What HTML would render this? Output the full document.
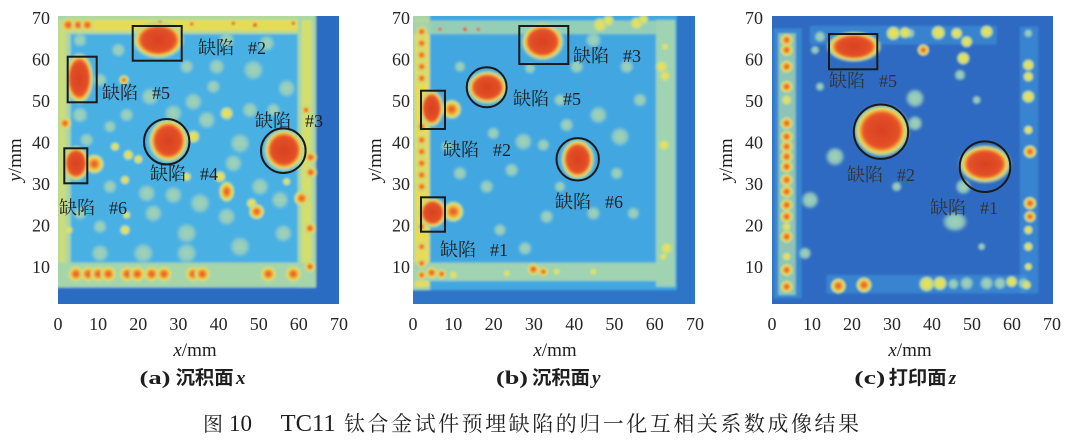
<!DOCTYPE html>
<html><head><meta charset="utf-8">
<style>
html,body{margin:0;padding:0;background:#fff;}
svg{display:block;}
.t{font-family:"Liberation Serif","Noto Serif CJK SC",serif;fill:#1e1e1e;}
.k{font-family:"Liberation Serif","Noto Serif CJK SC",serif;fill:#262626;font-size:18px;}
.s{font-family:"Liberation Serif","Noto Sans CJK SC",sans-serif;fill:#1e1e1e;font-weight:bold;}
</style></head><body>
<svg width="1068" height="443" viewBox="0 0 1068 443" xmlns="http://www.w3.org/2000/svg">
<defs>
<clipPath id="ca"><rect x="58" y="16" width="281" height="288"/></clipPath>
<clipPath id="cb"><rect x="413" y="16" width="282" height="288"/></clipPath>
<clipPath id="cc"><rect x="772" y="16" width="281" height="288"/></clipPath>
<filter id="bl" x="-10%" y="-10%" width="120%" height="120%"><feGaussianBlur stdDeviation="3"/></filter>
<radialGradient id="gR">
<stop offset="0" stop-color="#d8401f"/><stop offset="0.62" stop-color="#e4512a"/><stop offset="0.68" stop-color="#ef6f2b"/><stop offset="0.74" stop-color="#f4a235"/><stop offset="0.8" stop-color="#ecd94e"/><stop offset="0.87" stop-color="#b0d89c"/><stop offset="1" stop-color="#9fd2b4" stop-opacity="0"/>
</radialGradient>
<radialGradient id="gO">
<stop offset="0" stop-color="#e4502a"/><stop offset="0.3" stop-color="#ee7a2c"/><stop offset="0.5" stop-color="#f3b038"/><stop offset="0.68" stop-color="#eadf55"/><stop offset="0.85" stop-color="#b4da9c"/><stop offset="1" stop-color="#b4da9c" stop-opacity="0"/>
</radialGradient>
<radialGradient id="gY">
<stop offset="0" stop-color="#f0e050"/><stop offset="0.5" stop-color="#dfe060"/><stop offset="0.8" stop-color="#b0d8a0"/><stop offset="1" stop-color="#b0d8a0" stop-opacity="0"/>
</radialGradient>
<radialGradient id="gG">
<stop offset="0" stop-color="#a4d4b0"/><stop offset="0.6" stop-color="#98cfbe" stop-opacity="0.9"/><stop offset="1" stop-color="#98cfbe" stop-opacity="0"/>
</radialGradient>
</defs>
<rect width="1068" height="443" fill="#fff"/>

<!-- ===== Panel (a) ===== -->
<g clip-path="url(#ca)"><g transform="scale(0.33333)"><g filter="url(#bl)">
<rect x="140" y="20" width="910" height="920" fill="#2b6cc2"/>
<rect x="140" y="20" width="807" height="843" fill="#4ab0e4"/>
<rect x="150" y="40" width="797" height="62" fill="#b2d99c"/>
<rect x="180" y="60" width="765" height="32" fill="#e5dc56"/>
<rect x="150" y="40" width="62" height="822" fill="#a8d6a8"/>
<rect x="176" y="60" width="22" height="790" fill="#d9df66" opacity=".7"/>
<rect x="893" y="50" width="55" height="812" fill="#a6d5aa"/>
<rect x="905" y="60" width="30" height="795" fill="#e0e05a" opacity=".8"/>
<rect x="150" y="788" width="798" height="74" fill="#a6d5aa"/>
<g fill="url(#gG)">
<circle cx="355" cy="150" r="22"/><circle cx="300" cy="240" r="22"/><circle cx="450" cy="290" r="28"/><circle cx="580" cy="305" r="28"/><circle cx="760" cy="210" r="32"/><circle cx="860" cy="265" r="28"/><circle cx="240" cy="345" r="25"/><circle cx="380" cy="345" r="22"/><circle cx="520" cy="340" r="28"/><circle cx="620" cy="360" r="28"/><circle cx="720" cy="430" r="32"/><circle cx="700" cy="490" r="28"/><circle cx="330" cy="560" r="22"/><circle cx="440" cy="580" r="28"/><circle cx="520" cy="585" r="28"/><circle cx="600" cy="610" r="32"/><circle cx="240" cy="640" r="22"/><circle cx="300" cy="680" r="22"/><circle cx="460" cy="640" r="28"/><circle cx="560" cy="700" r="32"/><circle cx="680" cy="650" r="28"/><circle cx="780" cy="560" r="28"/><circle cx="840" cy="600" r="28"/><circle cx="430" cy="760" r="32"/><circle cx="560" cy="760" r="32"/><circle cx="720" cy="740" r="32"/><circle cx="850" cy="700" r="28"/><circle cx="300" cy="760" r="28"/><circle cx="820" cy="330" r="22"/><circle cx="650" cy="200" r="25"/><circle cx="560" cy="200" r="22"/><circle cx="680" cy="120" r="25"/><circle cx="800" cy="130" r="25"/><circle cx="240" cy="120" r="22"/><circle cx="260" cy="420" r="22"/><circle cx="330" cy="380" r="20"/><circle cx="750" cy="330" r="25"/><circle cx="640" cy="260" r="22"/>
</g>
<g fill="url(#gY)">
<circle cx="372" cy="240" r="16"/><circle cx="385" cy="465" r="16"/><circle cx="415" cy="478" r="14"/><circle cx="345" cy="440" r="14"/><circle cx="580" cy="410" r="20"/><circle cx="660" cy="530" r="18"/><circle cx="375" cy="690" r="16"/><circle cx="375" cy="540" r="14"/><circle cx="380" cy="645" r="12"/><circle cx="680" cy="340" r="20"/><circle cx="560" cy="530" r="14"/><circle cx="205" cy="690" r="14"/><circle cx="755" cy="610" r="16"/><circle cx="860" cy="545" r="12"/>
</g>
<g fill="url(#gO)">
<circle cx="228" cy="822" r="26"/><circle cx="265" cy="822" r="26"/><circle cx="295" cy="822" r="26"/><circle cx="325" cy="822" r="26"/><circle cx="382" cy="822" r="26"/><circle cx="412" cy="822" r="26"/><circle cx="455" cy="822" r="26"/><circle cx="492" cy="822" r="26"/><circle cx="580" cy="822" r="26"/><circle cx="607" cy="822" r="26"/><circle cx="805" cy="822" r="26"/><circle cx="880" cy="822" r="26"/>
<circle cx="205" cy="75" r="24"/><circle cx="235" cy="75" r="22"/><circle cx="262" cy="75" r="22"/>
<circle cx="932" cy="472" r="20"/><circle cx="932" cy="517" r="20"/><circle cx="905" cy="595" r="24"/><circle cx="930" cy="685" r="20"/><circle cx="930" cy="800" r="18"/><circle cx="918" cy="330" r="16"/><circle cx="195" cy="370" r="20"/>
<ellipse cx="680" cy="575" rx="24" ry="32"/><circle cx="770" cy="635" r="24"/><circle cx="372" cy="240" r="14"/>
<circle cx="283" cy="492" r="30"/>
</g>
<g fill="#e0502a"><circle cx="480" cy="68" r="6"/><circle cx="575" cy="72" r="5"/><circle cx="700" cy="70" r="5"/><circle cx="765" cy="75" r="6"/><circle cx="880" cy="70" r="5"/></g>
<g fill="url(#gR)">
<ellipse cx="475" cy="120" rx="80" ry="58"/><ellipse cx="238" cy="235" rx="44" ry="80"/><ellipse cx="505" cy="422" rx="62" ry="68"/><ellipse cx="852" cy="450" rx="63" ry="66"/><ellipse cx="228" cy="490" rx="41" ry="55"/>
</g>
</g></g></g>

<!-- ===== Panel (b) ===== -->
<g clip-path="url(#cb)"><g transform="translate(360,0) scale(0.33333)"><g filter="url(#bl)">
<rect x="130" y="20" width="900" height="920" fill="#2f74c8"/>
<rect x="130" y="20" width="820" height="850" fill="#43a7e1"/>
<rect x="130" y="40" width="80" height="830" fill="#a6d5aa"/>
<rect x="165" y="60" width="42" height="800" fill="#e8dc52"/>
<rect x="160" y="62" width="740" height="40" fill="#9fd3b2" opacity=".9"/>
<rect x="888" y="60" width="58" height="800" fill="#9fd3b2"/>
<rect x="160" y="788" width="745" height="55" fill="#9fd3b2"/>
<g fill="url(#gG)">
<circle cx="490" cy="425" r="28"/><circle cx="455" cy="510" r="22"/><circle cx="620" cy="375" r="22"/><circle cx="715" cy="345" r="28"/><circle cx="780" cy="410" r="30"/><circle cx="550" cy="435" r="20"/><circle cx="495" cy="745" r="22"/><circle cx="600" cy="560" r="18"/><circle cx="770" cy="520" r="20"/><circle cx="650" cy="200" r="22"/><circle cx="510" cy="205" r="18"/><circle cx="300" cy="200" r="18"/><circle cx="700" cy="120" r="25"/><circle cx="800" cy="200" r="22"/><circle cx="300" cy="520" r="22"/><circle cx="380" cy="560" r="22"/><circle cx="700" cy="640" r="22"/><circle cx="820" cy="640" r="20"/><circle cx="420" cy="690" r="20"/><circle cx="560" cy="650" r="22"/><circle cx="400" cy="400" r="20"/><circle cx="260" cy="440" r="18"/><circle cx="840" cy="300" r="22"/><circle cx="600" cy="300" r="20"/>
</g>
<g fill="url(#gO)">
<circle cx="185" cy="95" r="18"/><circle cx="185" cy="130" r="18"/><circle cx="185" cy="165" r="18"/><circle cx="185" cy="200" r="18"/><circle cx="185" cy="235" r="18"/><circle cx="185" cy="380" r="18"/><circle cx="185" cy="420" r="18"/><circle cx="185" cy="455" r="18"/><circle cx="185" cy="490" r="18"/><circle cx="185" cy="525" r="18"/><circle cx="185" cy="560" r="18"/><circle cx="185" cy="680" r="16"/><circle cx="185" cy="740" r="16"/><circle cx="185" cy="790" r="16"/><circle cx="185" cy="825" r="16"/>
<circle cx="215" cy="818" r="20"/><circle cx="245" cy="822" r="16"/><circle cx="520" cy="808" r="20"/><circle cx="550" cy="815" r="16"/>
<circle cx="275" cy="328" r="30"/><circle cx="280" cy="635" r="32"/>
</g>
<g fill="url(#gY)">
<circle cx="720" cy="75" r="22"/><circle cx="745" cy="62" r="18"/><circle cx="830" cy="70" r="20"/><circle cx="850" cy="58" r="16"/>
<circle cx="905" cy="200" r="20"/><circle cx="915" cy="228" r="18"/><circle cx="912" cy="435" r="18"/><circle cx="920" cy="745" r="20"/><circle cx="910" cy="770" r="12"/><circle cx="915" cy="140" r="12"/>
<circle cx="280" cy="825" r="14"/><circle cx="440" cy="820" r="12"/><circle cx="590" cy="815" r="12"/><circle cx="700" cy="815" r="12"/>
</g>
<g fill="#e0502a"><circle cx="315" cy="88" r="6"/><circle cx="355" cy="88" r="5"/><circle cx="240" cy="88" r="5"/></g>
<g fill="url(#gR)">
<ellipse cx="548" cy="125" rx="66" ry="58"/><ellipse cx="382" cy="262" rx="63" ry="52"/><ellipse cx="215" cy="325" rx="37" ry="58"/><ellipse cx="218" cy="638" rx="44" ry="47"/><ellipse cx="653" cy="478" rx="52" ry="63"/>
</g>
</g></g></g>

<!-- ===== Panel (c) ===== -->
<g clip-path="url(#cc)"><g transform="translate(710,0) scale(0.33333)"><g filter="url(#bl)">
<rect x="150" y="20" width="910" height="920" fill="#2e6bc1"/>
<rect x="190" y="85" width="85" height="810" fill="#3f98dc" opacity=".6"/>
<rect x="300" y="78" width="560" height="55" fill="#3f98dc" opacity=".55"/>
<rect x="930" y="80" width="55" height="800" fill="#3d94da" opacity=".6"/>
<rect x="350" y="825" width="600" height="55" fill="#3d94da" opacity=".6"/>
<rect x="205" y="100" width="52" height="785" fill="#9ccfb0" opacity=".85"/>
<g fill="url(#gG)">
<circle cx="375" cy="470" r="30"/><circle cx="300" cy="600" r="28"/><circle cx="285" cy="760" r="20"/><circle cx="615" cy="295" r="30"/><circle cx="615" cy="370" r="24"/><ellipse cx="735" cy="665" rx="40" ry="32"/><circle cx="800" cy="300" r="14"/><circle cx="815" cy="740" r="12"/><circle cx="760" cy="560" r="25"/><circle cx="330" cy="260" r="14"/><circle cx="560" cy="560" r="16"/>
<circle cx="330" cy="110" r="18"/><circle cx="750" cy="225" r="18"/><circle cx="315" cy="150" r="14"/><circle cx="600" cy="100" r="16"/>
<circle cx="955" cy="100" r="14"/>
<circle cx="770" cy="850" r="22"/><circle cx="830" cy="850" r="22"/><circle cx="870" cy="850" r="20"/><circle cx="940" cy="850" r="18"/><circle cx="730" cy="852" r="18"/>
</g>
<g fill="url(#gO)">
<circle cx="230" cy="120" r="20"/><circle cx="230" cy="150" r="20"/><circle cx="230" cy="200" r="20"/><circle cx="230" cy="260" r="20"/><circle cx="230" cy="370" r="20"/><circle cx="230" cy="410" r="20"/><circle cx="230" cy="440" r="20"/><circle cx="230" cy="470" r="20"/><circle cx="230" cy="500" r="20"/><circle cx="230" cy="540" r="20"/><circle cx="230" cy="575" r="20"/><circle cx="230" cy="615" r="20"/><circle cx="230" cy="650" r="20"/><circle cx="230" cy="710" r="20"/><circle cx="230" cy="810" r="20"/><circle cx="230" cy="860" r="20"/>
<circle cx="640" cy="150" r="18"/>
<circle cx="960" cy="455" r="20"/><circle cx="960" cy="610" r="20"/><circle cx="960" cy="650" r="18"/>
<circle cx="385" cy="858" r="24"/><circle cx="462" cy="855" r="24"/>
</g>
<g fill="url(#gY)">
<circle cx="230" cy="300" r="16"/><circle cx="230" cy="680" r="14"/><circle cx="230" cy="770" r="14"/>
<circle cx="550" cy="100" r="22"/><circle cx="585" cy="98" r="18"/><circle cx="685" cy="98" r="22"/><circle cx="740" cy="100" r="18"/><circle cx="770" cy="125" r="18"/><circle cx="760" cy="175" r="20"/><circle cx="830" cy="95" r="20"/>
<circle cx="955" cy="195" r="18"/><circle cx="955" cy="230" r="16"/><circle cx="955" cy="290" r="20"/><circle cx="955" cy="390" r="14"/><circle cx="955" cy="690" r="14"/><circle cx="955" cy="740" r="14"/><circle cx="955" cy="800" r="12"/><circle cx="950" cy="855" r="14"/>
<circle cx="650" cy="852" r="24"/><circle cx="690" cy="850" r="22"/><circle cx="905" cy="845" r="18"/>
</g>
<g fill="url(#gR)">
<ellipse cx="432" cy="140" rx="84" ry="47"/><ellipse cx="515" cy="392" rx="86" ry="81"/><ellipse cx="825" cy="492" rx="81" ry="59"/>
</g>
</g></g></g>

<!-- boxes & circles -->
<g fill="none" stroke="#1a1a1a" stroke-width="2">
<rect x="132.7" y="26" width="49" height="34.7"/>
<rect x="67.7" y="56.7" width="29" height="45.6"/>
<rect x="64.3" y="148.3" width="23" height="35"/>
<circle cx="166.7" cy="141.7" r="22.7"/>
<circle cx="283.3" cy="150.7" r="22.3"/>
<rect x="519.3" y="26" width="49" height="38"/>
<rect x="421" y="90.7" width="24" height="38.3"/>
<rect x="421" y="197.3" width="24" height="34.4"/>
<circle cx="486.7" cy="87.3" r="20"/>
<circle cx="577.7" cy="159.3" r="21.2"/>
<rect x="829" y="34" width="48.3" height="35.3"/>
<circle cx="881" cy="131.7" r="27.2"/>
<circle cx="985" cy="166.7" r="25.3"/>
</g>

<!-- in-plot labels -->
<g class="t" font-size="18">
<text y="54"><tspan x="198">缺陷</tspan><tspan x="248">#2</tspan></text>
<text y="99"><tspan x="102">缺陷</tspan><tspan x="152">#5</tspan></text>
<text y="127"><tspan x="255">缺陷</tspan><tspan x="305">#3</tspan></text>
<text y="180"><tspan x="150">缺陷</tspan><tspan x="200">#4</tspan></text>
<text y="214"><tspan x="59">缺陷</tspan><tspan x="109">#6</tspan></text>
<text y="62"><tspan x="573">缺陷</tspan><tspan x="623">#3</tspan></text>
<text y="105"><tspan x="513">缺陷</tspan><tspan x="563">#5</tspan></text>
<text y="156"><tspan x="443">缺陷</tspan><tspan x="493">#2</tspan></text>
<text y="208"><tspan x="555">缺陷</tspan><tspan x="605">#6</tspan></text>
<text y="256"><tspan x="440">缺陷</tspan><tspan x="490">#1</tspan></text>
<text y="87" fill="#333"><tspan x="829">缺陷</tspan><tspan x="879">#5</tspan></text>
<text y="181" fill="#333"><tspan x="847">缺陷</tspan><tspan x="897">#2</tspan></text>
<text y="214" fill="#333"><tspan x="930">缺陷</tspan><tspan x="980">#1</tspan></text>
</g>

<!-- x tick labels -->
<g class="k" text-anchor="middle">
<text x="58" y="330">0</text><text x="98.1" y="330">10</text><text x="138.3" y="330">20</text><text x="178.4" y="330">30</text><text x="218.6" y="330">40</text><text x="258.7" y="330">50</text><text x="298.8" y="330">60</text><text x="339" y="330">70</text>
<text x="413" y="330">0</text><text x="453.3" y="330">10</text><text x="493.6" y="330">20</text><text x="533.9" y="330">30</text><text x="574.2" y="330">40</text><text x="614.4" y="330">50</text><text x="654.7" y="330">60</text><text x="695" y="330">70</text>
<text x="772" y="330">0</text><text x="812" y="330">10</text><text x="852" y="330">20</text><text x="892" y="330">30</text><text x="932" y="330">40</text><text x="972" y="330">50</text><text x="1012" y="330">60</text><text x="1052" y="330">70</text>
</g>
<!-- y tick labels -->
<g class="k" text-anchor="end">
<text x="50" y="23.8">70</text><text x="50" y="65.4">60</text><text x="50" y="106.9">50</text><text x="50" y="148.5">40</text><text x="50" y="190.1">30</text><text x="50" y="231.6">20</text><text x="50" y="273.2">10</text>
<text x="410" y="23.8">70</text><text x="410" y="65.4">60</text><text x="410" y="106.9">50</text><text x="410" y="148.5">40</text><text x="410" y="190.1">30</text><text x="410" y="231.6">20</text><text x="410" y="273.2">10</text>
<text x="763" y="23.8">70</text><text x="763" y="65.4">60</text><text x="763" y="106.9">50</text><text x="763" y="148.5">40</text><text x="763" y="190.1">30</text><text x="763" y="231.6">20</text><text x="763" y="273.2">10</text>
</g>
<!-- axis titles -->
<g class="t" font-size="19" text-anchor="middle">
<text x="195" y="356"><tspan font-style="italic">x</tspan>/mm</text>
<text x="555" y="356"><tspan font-style="italic">x</tspan>/mm</text>
<text x="910" y="356"><tspan font-style="italic">x</tspan>/mm</text>
<text transform="translate(21,160) rotate(-90)"><tspan font-style="italic">y</tspan>/mm</text>
<text transform="translate(381,160) rotate(-90)"><tspan font-style="italic">y</tspan>/mm</text>
<text transform="translate(732,160) rotate(-90)"><tspan font-style="italic">y</tspan>/mm</text>
</g>
<!-- sub captions -->
<g class="s" font-size="19">
<text x="139.5" y="384" textLength="31" lengthAdjust="spacingAndGlyphs" font-family="Liberation Serif, serif">(a)</text>
<text x="175.6" y="384" textLength="58" lengthAdjust="spacingAndGlyphs">沉积面</text>
<text x="236" y="384" font-style="italic" font-family="Liberation Serif, serif">x</text>
<text x="496" y="384" textLength="32" lengthAdjust="spacingAndGlyphs" font-family="Liberation Serif, serif">(b)</text>
<text x="532" y="384" textLength="58" lengthAdjust="spacingAndGlyphs">沉积面</text>
<text x="592" y="384" font-style="italic" font-family="Liberation Serif, serif">y</text>
<text x="854.3" y="384" textLength="31" lengthAdjust="spacingAndGlyphs" font-family="Liberation Serif, serif">(c)</text>
<text x="888.6" y="384" textLength="58" lengthAdjust="spacingAndGlyphs">打印面</text>
<text x="948.7" y="384" font-style="italic" font-family="Liberation Serif, serif">z</text>
</g>
<!-- caption -->
<g class="t">
<text x="203" y="431" font-size="20">图</text>
<text x="229" y="431" font-size="23">10</text>
<text x="280.6" y="431" font-size="24" textLength="55" lengthAdjust="spacingAndGlyphs">TC11</text>
<text x="344" y="431" font-size="21" textLength="515" lengthAdjust="spacing">钛合金试件预埋缺陷的归一化互相关系数成像结果</text>
</g>
</svg>
</body></html>
